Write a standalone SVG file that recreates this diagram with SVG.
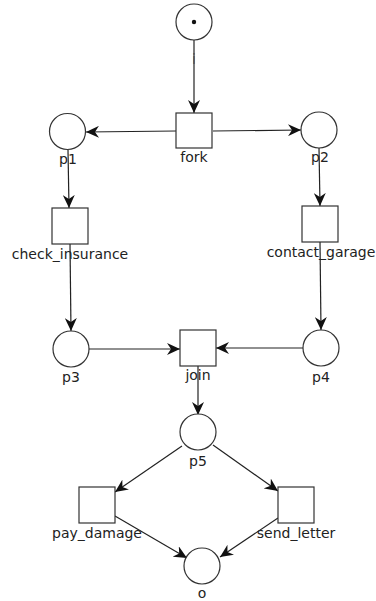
<svg xmlns="http://www.w3.org/2000/svg" width="376" height="601" viewBox="0 0 376 601">
<style>
.pl{fill:#fff;stroke:#333;stroke-width:1.2}
.tr{fill:#fff;stroke:#333;stroke-width:1.2}
.lb{font-family:"DejaVu Sans",sans-serif;font-size:14px;fill:#222;text-anchor:middle}
.arc{stroke:#222;stroke-width:1.2;fill:none;marker-end:url(#ah)}
</style>
<defs>
<marker id="ah" markerUnits="userSpaceOnUse" markerWidth="14" markerHeight="12" refX="13" refY="6" orient="auto" viewBox="0 0 14 12">
<path d="M0,0 L13,6 L0,12 L4,6 z" fill="#111"/>
</marker>
</defs>
<rect width="376" height="601" fill="#fff"/>
<g id="connectors">
<line class="arc" x1="194" y1="40" x2="194" y2="113"/>
<line class="arc" x1="176" y1="131" x2="86" y2="132"/>
<line class="arc" x1="213" y1="131" x2="301" y2="130"/>
<line class="arc" x1="68" y1="150" x2="69" y2="208"/>
<line class="arc" x1="70" y1="244" x2="71" y2="331"/>
<line class="arc" x1="319" y1="148" x2="320" y2="206"/>
<line class="arc" x1="320" y1="242" x2="321" y2="330"/>
<line class="arc" x1="89" y1="349" x2="180" y2="349"/>
<line class="arc" x1="303" y1="348" x2="216" y2="348"/>
<line class="arc" x1="198" y1="366" x2="198" y2="415"/>
<line class="arc" x1="182" y1="446" x2="115" y2="492"/>
<line class="arc" x1="213" y1="445" x2="278" y2="491"/>
<line class="arc" x1="115" y1="516" x2="187" y2="558"/>
<line class="arc" x1="278" y1="518" x2="220" y2="557"/>
</g>
<g id="i"><circle class="pl" cx="194" cy="22" r="18"/><circle cx="194" cy="22" r="2.2" fill="#111"/><text class="lb" x="194" y="64" fill-opacity="0.5">i</text></g>
<g id="fork"><rect class="tr" x="176" y="113" width="36" height="35"/><text class="lb" x="194" y="162">fork</text></g>
<g id="p1"><circle class="pl" cx="67.5" cy="131.5" r="18"/><text class="lb" x="68" y="164">p1</text></g>
<g id="p2"><circle class="pl" cx="319" cy="130" r="18"/><text class="lb" x="320" y="162">p2</text></g>
<g id="check_insurance"><rect class="tr" x="52" y="208" width="36" height="36"/><text class="lb" x="70" y="259">check_insurance</text></g>
<g id="contact_garage"><rect class="tr" x="302" y="206" width="36" height="36"/><text class="lb" x="321" y="257">contact_garage</text></g>
<g id="p3"><circle class="pl" cx="71" cy="349" r="18"/><text class="lb" x="71" y="382">p3</text></g>
<g id="join"><rect class="tr" x="180" y="330" width="36" height="36"/><text class="lb" x="198" y="380">join</text></g>
<g id="p4"><circle class="pl" cx="321" cy="348" r="18"/><text class="lb" x="321" y="382">p4</text></g>
<g id="p5"><circle class="pl" cx="198" cy="432" r="18"/><text class="lb" x="198" y="466">p5</text></g>
<g id="pay_damage"><rect class="tr" x="79" y="487" width="36" height="36"/><text class="lb" x="97" y="538">pay_damage</text></g>
<g id="send_letter"><rect class="tr" x="278" y="487" width="36" height="36"/><text class="lb" x="296" y="538">send_letter</text></g>
<g id="o"><circle class="pl" cx="202" cy="566" r="18"/><text class="lb" x="202" y="598">o</text></g>
</svg>
